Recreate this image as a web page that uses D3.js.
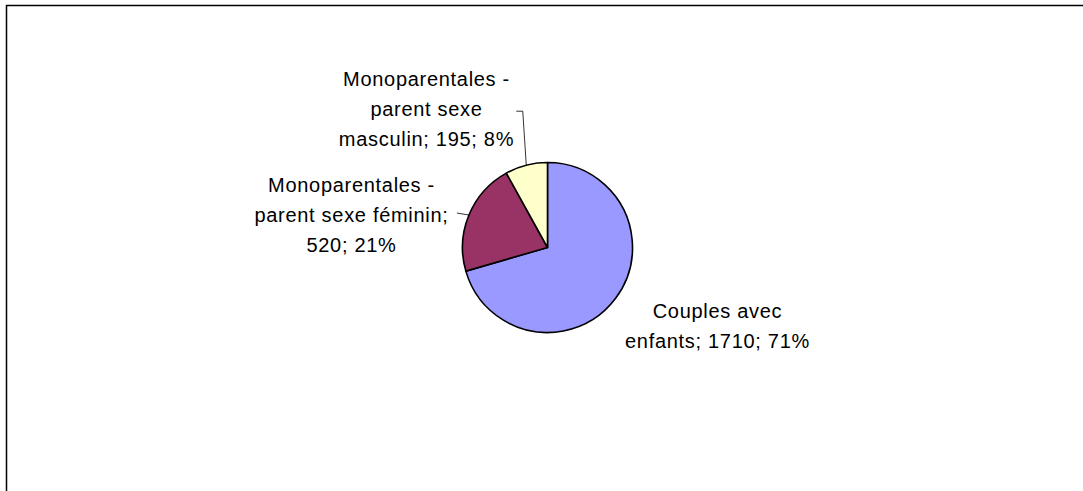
<!DOCTYPE html>
<html>
<head>
<meta charset="utf-8">
<script src="https://cdn.jsdelivr.net/npm/d3@7"></script>
<style>
  body { margin: 0; background: #fff; }
  svg { display: block; }
  .lbl { font-family: Arial, "Liberation Sans", sans-serif; font-size: 20px; letter-spacing: 0.7px; fill: #000; }
</style>
</head>
<body>
<div id="chart"></div>
<script>
// frame size
let FRAME_WIDTH = 1083;
let FRAME_HEIGHT = 491;

// data
const categories = ["Couples avec enfants", "Monoparentales - parent sexe féminin", "Monoparentales - parent sexe masculin"];
const values = [1710, 520, 195];
const percents = ["71%", "21%", "8%"];
const colors = ["#9999FF", "#993366", "#FFFFCC"];

// label text lines (as Excel wrapped them)
const labelLines = [
  ["Couples avec", "enfants; 1710; 71%"],
  ["Monoparentales -", "parent sexe féminin;", "520; 21%"],
  ["Monoparentales -", "parent sexe", "masculin; 195; 8%"]
];

// label placement, offsets from pie centre (layout only)
const labelPos = [
  {dx: 170, dy: 70},
  {dx: -196, dy: -56},
  {dx: -121, dy: -162}
];

const CX = 547.5, CY = 247.5, R = 85;
const LINE_H = 30;

let svg = d3.select("#chart")
  .append("svg")
  .attr("width", FRAME_WIDTH)
  .attr("height", FRAME_HEIGHT);

// outer chart border (only top and left visible)
svg.append("path")
  .attr("d", "M6.5," + FRAME_HEIGHT + " V5.5 H" + FRAME_WIDTH)
  .attr("fill", "none")
  .attr("stroke", "#000")
  .attr("stroke-width", 1.5);

let pie = d3.pie().sort(null).value(d => d);
let arcs = pie(values);
let arc = d3.arc().innerRadius(0).outerRadius(R);

let g = svg.append("g").attr("transform", "translate(" + CX + "," + CY + ")");

g.selectAll("path.slice")
  .data(arcs)
  .enter().append("path")
  .attr("class", "slice")
  .attr("d", arc)
  .attr("fill", (d, i) => colors[i])
  .attr("stroke", "#000")
  .attr("stroke-width", 1.6)
  .attr("stroke-linejoin", "round");

// point on the rim at the middle of a slice
function rimPoint(d, r) {
  let a = (d.startAngle + d.endAngle) / 2;
  return [Math.sin(a) * r, -Math.cos(a) * r];
}

// leader lines
// feminin: short segment from label to rim
let pF = rimPoint(arcs[1], R);
g.append("path")
  .attr("d", "M" + (pF[0] - 12) + "," + (pF[1] - 2) + " L" + pF[0] + "," + pF[1])
  .attr("fill", "none").attr("stroke", "#000").attr("stroke-width", 0.8);

// masculin: elbow from label down to rim
let pM = rimPoint(arcs[2], R);
g.append("path")
  .attr("d", "M" + (pM[0] - 10) + "," + (pM[1] - 54) +
             " L" + (pM[0] - 3.5) + "," + (pM[1] - 54) +
             " L" + pM[0] + "," + pM[1])
  .attr("fill", "none").attr("stroke", "#000").attr("stroke-width", 0.8);

// data labels
labelLines.forEach(function(lines, i) {
  let t = g.append("text")
    .attr("class", "lbl")
    .attr("text-anchor", "middle")
    .attr("x", labelPos[i].dx)
    .attr("y", labelPos[i].dy);
  lines.forEach(function(line, j) {
    t.append("tspan")
      .attr("x", labelPos[i].dx)
      .attr("y", labelPos[i].dy + j * LINE_H)
      .text(line);
  });
});
</script>
</body>
</html>
